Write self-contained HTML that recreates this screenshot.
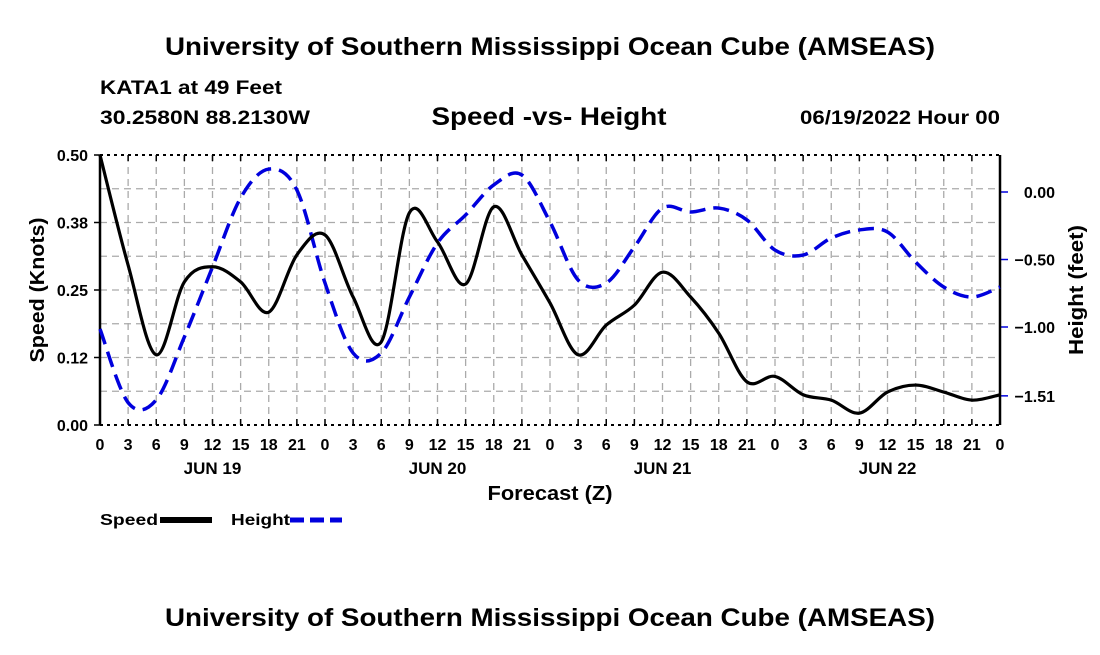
<!DOCTYPE html>
<html><head><meta charset="utf-8"><style>
body{margin:0;background:#fff;}
svg text{font-family:"Liberation Sans",Arial,sans-serif;font-weight:bold;fill:#000;}
</style></head><body>
<svg id="chart" width="1100" height="650" viewBox="0 0 1100 650" xmlns="http://www.w3.org/2000/svg" xml:space="preserve">
<rect width="1100" height="650" fill="#fff"/>
<text x="550" y="55" font-size="25" text-anchor="middle" textLength="770" lengthAdjust="spacingAndGlyphs">University of Southern Mississippi Ocean Cube (AMSEAS)</text>
<text x="100" y="94" font-size="19" textLength="182" lengthAdjust="spacingAndGlyphs">KATA1 at 49 Feet</text>
<text x="100" y="124" font-size="19" textLength="210" lengthAdjust="spacingAndGlyphs">30.2580N  88.2130W</text>
<text x="549" y="125" font-size="25" text-anchor="middle" textLength="235" lengthAdjust="spacingAndGlyphs">Speed -vs- Height</text>
<text x="1000" y="124" font-size="19" text-anchor="end" textLength="200" lengthAdjust="spacingAndGlyphs">06/19/2022 Hour 00</text>
<g id="grid"></g>
<g id="axes"></g>
<g id="series"></g>
<text x="550" y="500" font-size="20" text-anchor="middle" textLength="125" lengthAdjust="spacingAndGlyphs">Forecast (Z)</text>
<text transform="translate(44,290) rotate(-90)" font-size="20" text-anchor="middle" textLength="145" lengthAdjust="spacingAndGlyphs">Speed (Knots)</text>
<text transform="translate(1083,290) rotate(-90)" font-size="20" text-anchor="middle" textLength="130" lengthAdjust="spacingAndGlyphs">Height (feet)</text>
<g>
<text x="100" y="525" font-size="16" textLength="58" lengthAdjust="spacingAndGlyphs">Speed</text>
<line x1="160" y1="520" x2="212" y2="520" stroke="#000" stroke-width="6"/>
<text x="231" y="525" font-size="16" textLength="59" lengthAdjust="spacingAndGlyphs">Height</text>
<line x1="290" y1="520" x2="342" y2="520" stroke="#0000dd" stroke-width="5" stroke-dasharray="14,6"/>
</g>
<text x="550" y="626" font-size="25" text-anchor="middle" textLength="770" lengthAdjust="spacingAndGlyphs">University of Southern Mississippi Ocean Cube (AMSEAS)</text>
</svg>
<script>
const hours=[0,3,6,9,12,15,18,21,24,27,30,33,36,39,42,45,48,51,54,57,60,63,66,69,72,75,78,81,84,87,90,93,96];
const speed=[0.50,0.296,0.130,0.265,0.293,0.265,0.209,0.315,0.352,0.237,0.154,0.393,0.339,0.261,0.404,0.315,0.226,0.130,0.185,0.222,0.283,0.237,0.170,0.080,0.090,0.056,0.046,0.022,0.061,0.074,0.061,0.046,0.056];
const height=[-1.015,-1.56,-1.54,-1.074,-0.556,-0.044,0.170,0.015,-0.674,-1.193,-1.193,-0.778,-0.378,-0.170,0.052,0.126,-0.222,-0.652,-0.674,-0.407,-0.119,-0.148,-0.119,-0.207,-0.430,-0.467,-0.341,-0.281,-0.296,-0.519,-0.704,-0.778,-0.704];
const xTickLabels=["0","3","6","9","12","15","18","21","0","3","6","9","12","15","18","21","0","3","6","9","12","15","18","21","0","3","6","9","12","15","18","21","0"];
const dateLabels=["JUN 19","JUN 20","JUN 21","JUN 22"];
const speedTicks=[0,0.125,0.25,0.375,0.5];
const speedTickLabels=["0.00","0.12","0.25","0.38","0.50"];
const heightTicks=[0,-0.5,-1.0,-1.51];
const heightTickLabels=["0.00","\u22120.50","\u22121.00","\u22121.51"];

const NS="http://www.w3.org/2000/svg";
const X0=100,X1=1000,YT=155,YB=425;
const xs=h=>X0+(h/96)*(X1-X0);
const ys=v=>YB-(v/0.5)*(YB-YT);
const yh=v=>192-v*135;
function mk(tag,attrs,parent){const e=document.createElementNS(NS,tag);for(const k in attrs)e.setAttribute(k,attrs[k]);parent.appendChild(e);return e;}
const grid=document.getElementById('grid'),axes=document.getElementById('axes'),series=document.getElementById('series');
hours.forEach((h,i)=>{
  if(i>0&&i<hours.length-1){const l=mk('line',{x1:xs(h),x2:xs(h),y1:YT,y2:YB,stroke:'#aaa','stroke-width':1.3,'stroke-dasharray':'7,5'},grid);
  
  }
  const t=mk('text',{x:xs(h),y:450,'font-size':16,'text-anchor':'middle'},axes);t.textContent=xTickLabels[i];
  
  
  mk('line',{x1:xs(h),x2:xs(h),y1:YB,y2:YB-6,stroke:'#000','stroke-width':1.5},axes);
  mk('line',{x1:xs(h),x2:xs(h),y1:YT,y2:YT+6,stroke:'#000','stroke-width':1.5},axes);
});
dateLabels.forEach((d,i)=>{const t=mk('text',{x:xs(12+24*i),y:474,'font-size':17,'text-anchor':'middle'},axes);t.textContent=d;
  
  });
for(let v=0.0625;v<0.5;v+=0.0625){const l=mk('line',{x1:X0,x2:X1,y1:ys(v),y2:ys(v),stroke:'#aaa','stroke-width':1.3,'stroke-dasharray':'7,5'},grid);
  
  }
speedTicks.forEach((v,i)=>{const t=mk('text',{x:88,y:ys(v)+6,'font-size':16,'text-anchor':'end'},axes);t.textContent=speedTickLabels[i];
  
  
  mk('line',{x1:X0,x2:X0-6,y1:ys(v),y2:ys(v),stroke:'#000','stroke-width':1.5},axes);});
heightTicks.forEach((v,i)=>{const t=mk('text',{x:1055,y:yh(v)+6,'font-size':16,'text-anchor':'end'},axes);t.textContent=heightTickLabels[i];
  
  
  mk('line',{x1:X1,x2:X1+8,y1:yh(v),y2:yh(v),stroke:'#0000dd','stroke-width':1.5},axes);});
mk('line',{x1:X0,x2:X1,y1:YT,y2:YT,stroke:'#000','stroke-width':2,'stroke-dasharray':'3,4'},axes);
mk('line',{x1:X0,x2:X1,y1:YB,y2:YB,stroke:'#000','stroke-width':2,'stroke-dasharray':'3,4'},axes);
mk('line',{x1:X0,x2:X0,y1:YT,y2:YB,stroke:'#000','stroke-width':2.5},axes);
mk('line',{x1:X1,x2:X1,y1:YT,y2:YB,stroke:'#000','stroke-width':2.5},axes);
function smooth(pts){let d=`M${pts[0][0]},${pts[0][1]}`;
  for(let i=0;i<pts.length-1;i++){const p0=pts[i-1]||pts[i],p1=pts[i],p2=pts[i+1],p3=pts[i+2]||p2;
    const c1=[p1[0]+(p2[0]-p0[0])/6,p1[1]+(p2[1]-p0[1])/6],c2=[p2[0]-(p3[0]-p1[0])/6,p2[1]-(p3[1]-p1[1])/6];
    d+=` C${c1[0]},${c1[1]} ${c2[0]},${c2[1]} ${p2[0]},${p2[1]}`;}return d;}
const hp=mk('path',{d:smooth(hours.map((h,i)=>[xs(h),yh(height[i])])),fill:'none',stroke:'#0000dd','stroke-width':3.5,'stroke-dasharray':'16,8'},series);


const sp=mk('path',{d:smooth(hours.map((h,i)=>[xs(h),ys(speed[i])])),fill:'none',stroke:'#000','stroke-width':3.2},series);


</script>
</body></html>
